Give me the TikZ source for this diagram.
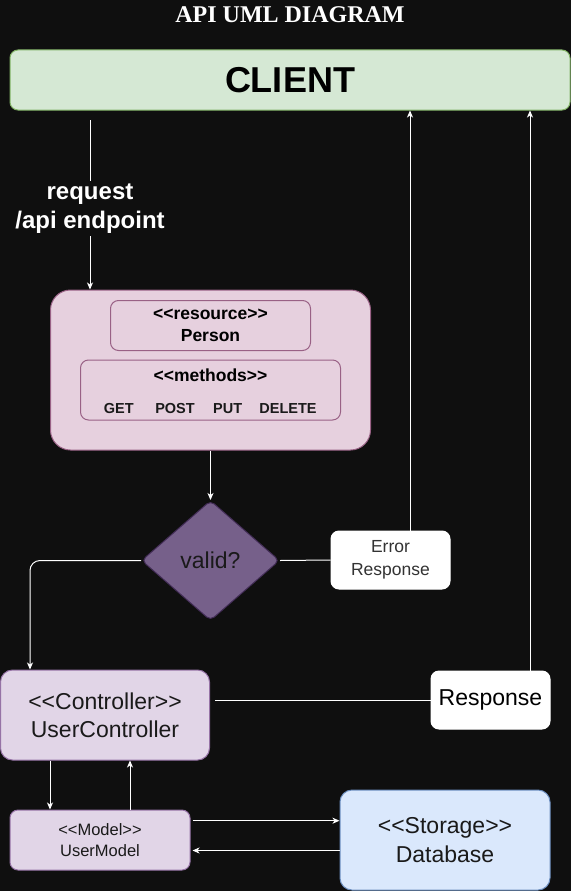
\documentclass[tikz,border=0pt]{standalone}
\usepackage{fontspec}
\setmainfont{Liberation Sans}[Ligatures=TeXOff]
\newfontfamily\titlefont{Liberation Serif}
\usetikzlibrary{shapes.geometric,arrows.meta}
\definecolor{bg}{HTML}{0F0F0F}
\definecolor{clientfill}{HTML}{D5E8D4}
\definecolor{clientdraw}{HTML}{82B366}
\definecolor{resfill}{HTML}{E6D0DE}
\definecolor{resdraw}{HTML}{996185}
\definecolor{ctrlfill}{HTML}{E1D5E7}
\definecolor{ctrldraw}{HTML}{9673A6}
\definecolor{dbfill}{HTML}{DAE8FC}
\definecolor{dbdraw}{HTML}{6C8EBF}
\definecolor{decfill}{HTML}{76608A}
\definecolor{decdraw}{HTML}{432D57}
\definecolor{txt}{HTML}{1A1A1A}
\newcommand{\fs}[2]{\fontsize{#1}{#2}\selectfont}
\tikzset{
  box/.style={rectangle, line width=1pt, inner sep=0pt, align=center, text=txt},
  conn/.style={draw=white, line width=1pt},
  arr/.style={conn, -{Stealth[length=7pt,width=6pt,inset=2pt]}},
  meth/.style={font=\bfseries\fs{14.5}{16}, text=txt, inner sep=0pt},
}
\begin{document}
\begin{tikzpicture}[x=1pt,y=-1pt]
\fill[bg] (0,0) rectangle (571,891);
\useasboundingbox (0,0) rectangle (571,891);

% title
\node[text=white, font=\titlefont\bfseries\fs{24}{28}] (title) at (290,15) {API UML DIAGRAM};

% client
\node[box, fill=clientfill, draw=clientdraw, minimum width=560pt, minimum height=60pt,
      rounded corners=8pt, font=\bfseries\fs{36}{40}, text=black] (client) at (290,80) {CLIENT};

% resource block
\node[box, fill=resfill, draw=resdraw, minimum width=320pt, minimum height=160pt,
      rounded corners=20pt] (res) at (210.5,370) {};
\node[box, fill=resfill, draw=resdraw, minimum width=200pt, minimum height=50pt,
      rounded corners=8pt, font=\bfseries\fs{17.5}{22}, text=black] (person) at (210.5,325.5) {<<resource>>\\Person};
\node[box, fill=resfill, draw=resdraw, minimum width=260pt, minimum height=60pt,
      rounded corners=8pt] (methods) at (210.5,390) {};
\node[font=\bfseries\fs{17.5}{20}, text=black, inner sep=0pt] (mhead) at (210.5,375) {<<methods>>};
\node[meth] (mget) at (118.7,408.5) {GET};
\node[meth] (mpost) at (175,408.5) {POST};
\node[meth] (mput) at (227.7,408.5) {PUT};
\node[meth] (mdel) at (288,408.5) {DELETE};

% request connector
\coordinate (reqtop) at (90,120);
\draw[arr] (reqtop) -- (reqtop |- res.north);
\node[fill=bg, inner xsep=1pt, inner ysep=3pt, align=center, text=white,
      font=\bfseries\fs{24}{29}] (req) at (90,208.5) {request\\/api endpoint};

% decision
\node[diamond, fill=decfill, draw=decdraw, line width=1pt, minimum width=138pt, minimum height=120pt,
      inner sep=0pt, rounded corners=5pt, text=txt, font=\fs{23}{26}] (valid) at (210.5,560.5) {valid?};
\draw[arr] (res.south) -- (valid.north);

% error response
\node[box, fill=white, draw=white, minimum width=119pt, minimum height=58pt, rounded corners=8pt,
      font=\fs{17.5}{23}, text=black!80] (err) at (390.5,560) {\raisebox{-2pt}{\parbox{100pt}{\centering Error\\Response}}};
\draw[conn] (valid.east) -- (err.west);
\draw[arr] ([xshift=19.5pt]err.north) -- ([xshift=19.5pt]err.north |- client.south);

% controller
\node[box, fill=ctrlfill, draw=ctrldraw, minimum width=209pt, minimum height=90pt, rounded corners=12pt,
      font=\fs{23}{28}] (ctrl) at (105,715) {<<Controller>>\\UserController};
\draw[arr, rounded corners=10pt] (valid.west) -| ([xshift=-75pt]ctrl.north);

% response
\node[box, fill=white, draw=white, minimum width=119pt, minimum height=58pt, rounded corners=8pt,
      font=\fs{23}{26}, text=black] (resp) at (490.5,700) {\raisebox{-2.5pt}{Response}};
\draw[conn, shorten <=5pt] (ctrl.east |- resp.west) -- (resp.west);
\draw[arr] ([xshift=39.5pt]resp.north) -- ([xshift=39.5pt]resp.north |- client.south);

% model
\node[box, fill=ctrlfill, draw=ctrldraw, minimum width=180pt, minimum height=60pt, rounded corners=8pt,
      font=\fs{16.5}{21}] (model) at (100,840) {<<Model>>\\UserModel};
\draw[arr] (ctrl.south -| 50,0) -- (model.north -| 50,0);
\draw[arr] (model.north -| 130,0) -- (ctrl.south -| 130,0);

% database
\node[box, fill=dbfill, draw=dbdraw, minimum width=210pt, minimum height=100pt, rounded corners=12pt,
      font=\fs{23}{29}] (db) at (445,840) {<<Storage>>\\Database};
\draw[arr, shorten <=2pt] (model.east |- 0,820.7) -- (db.west |- 0,820.7);
\draw[arr, shorten >=2pt] (db.west |- 0,850.5) -- (model.east |- 0,850.5);
\end{tikzpicture}
\end{document}
